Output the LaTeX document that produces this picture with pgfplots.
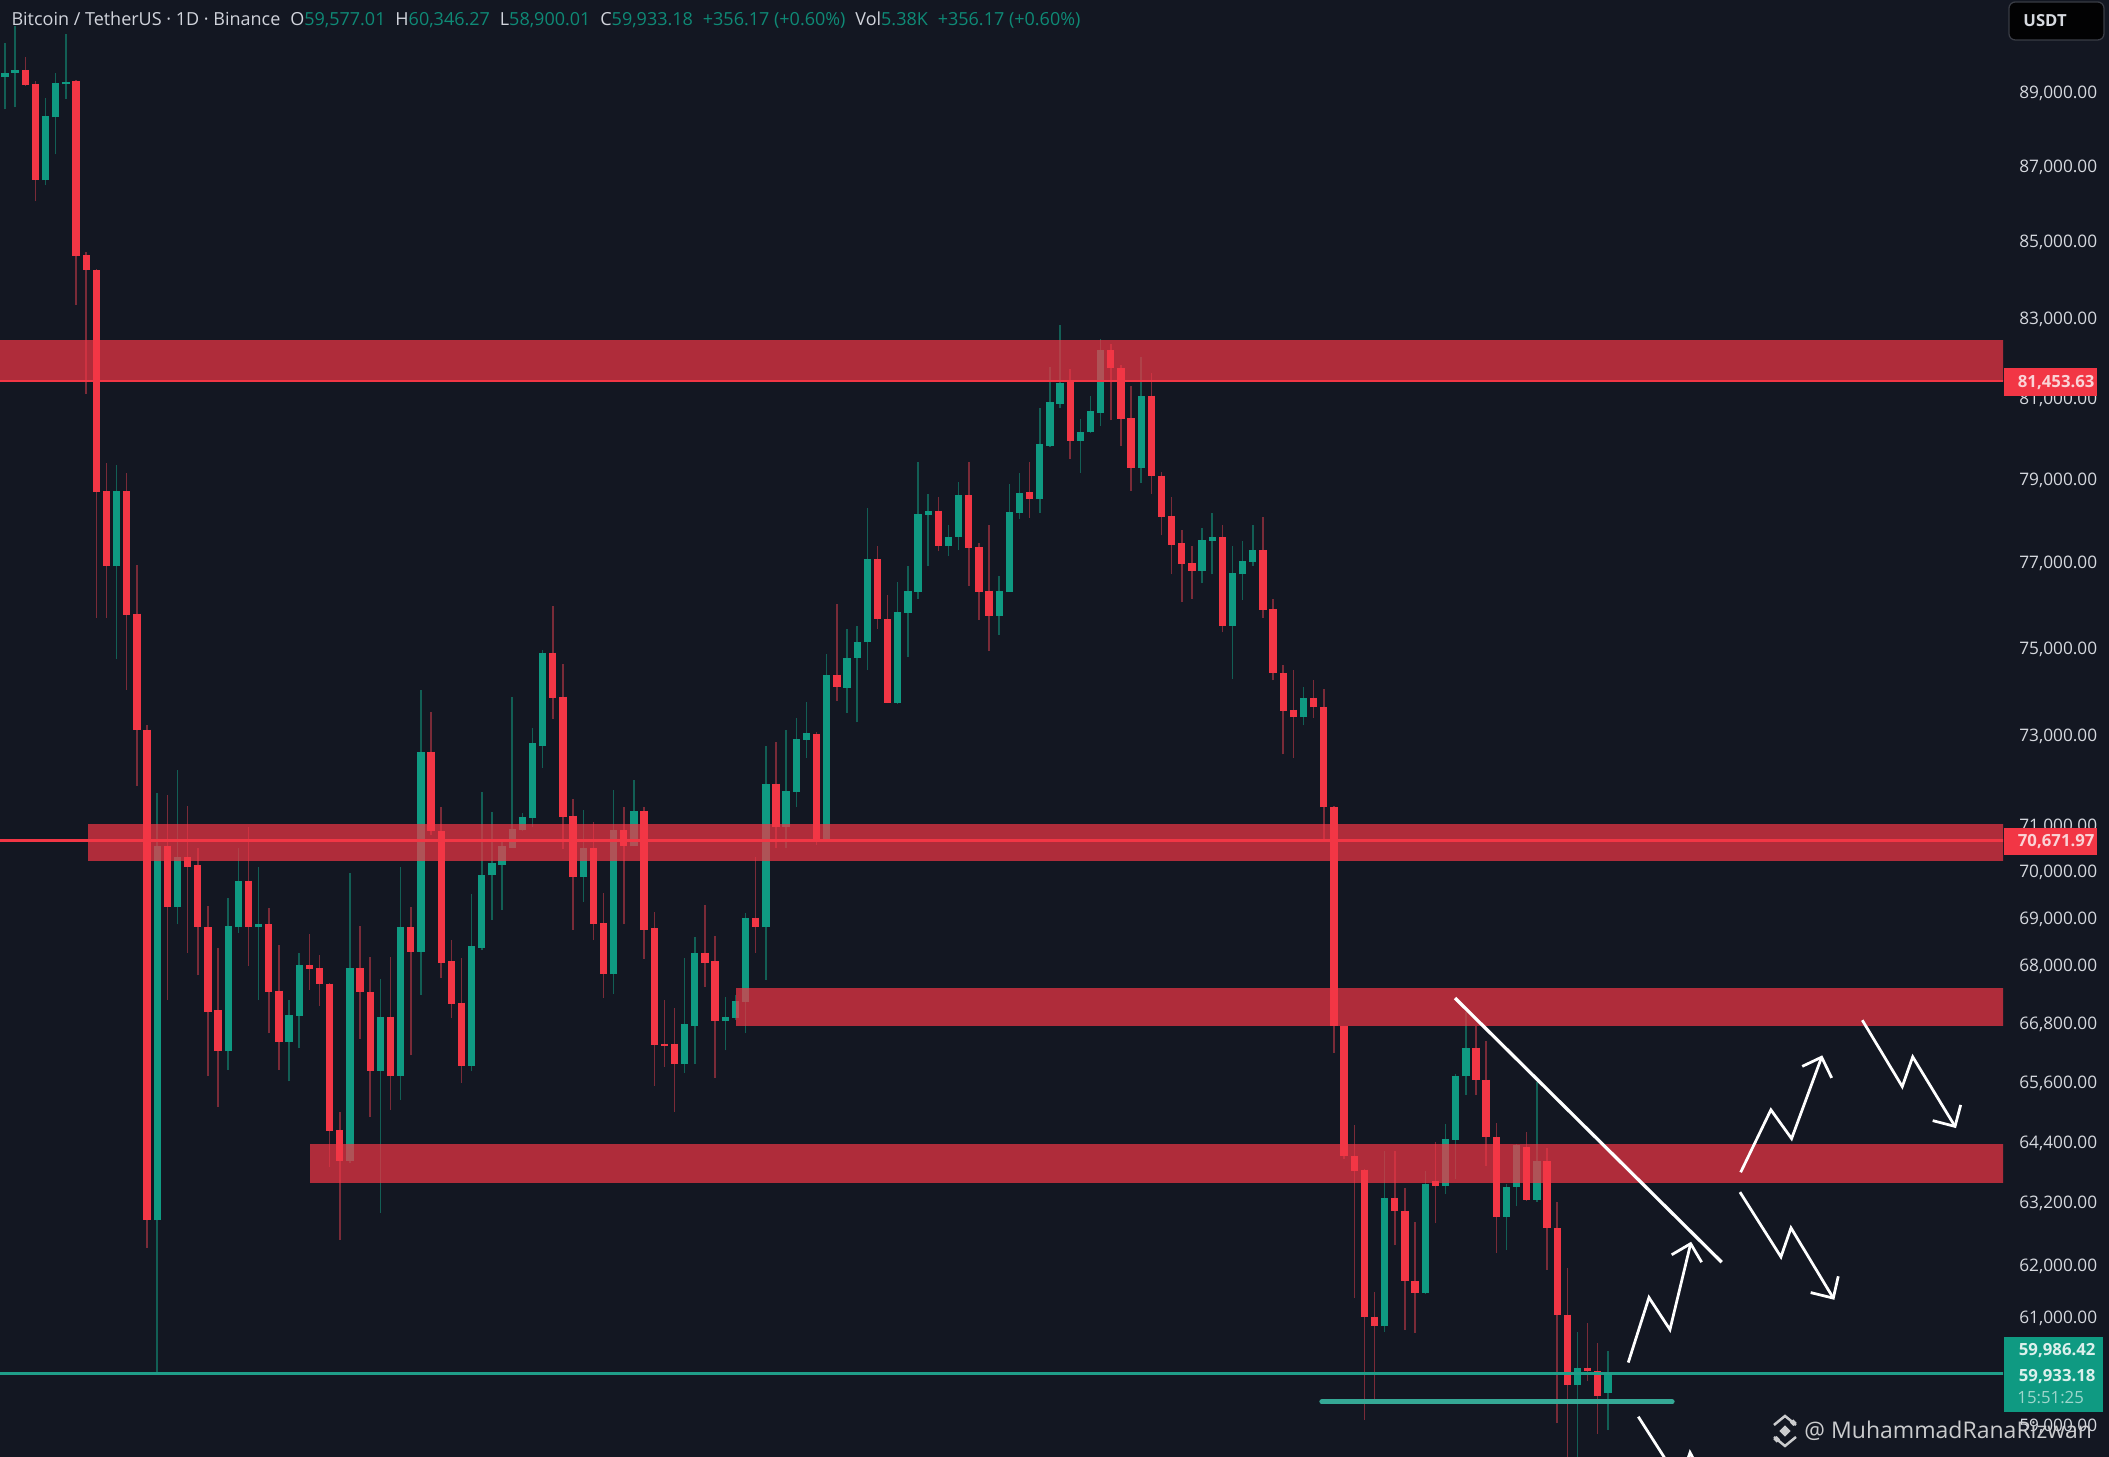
\documentclass[border=0pt]{standalone}
\usepackage{pgfplots}
\usepackage{pgfplotstable}
\usepackage{fontspec}
\setmainfont{Open Sans}
\pgfplotsset{compat=1.18}
\definecolor{bg}{HTML}{131722}
\definecolor{cred}{HTML}{F23645}
\definecolor{cgreen}{HTML}{0F9A82}
\definecolor{wred}{HTML}{7A2B38}
\definecolor{wgreen}{HTML}{125F55}
\definecolor{axt}{HTML}{D6D9DF}
\definecolor{head}{HTML}{D1D4DC}
\definecolor{headg}{HTML}{0E8A76}
\definecolor{lgreen}{HTML}{1F9E89}
\definecolor{tagt}{HTML}{FAD3D6}
\pgfplotstableread{
i o h l c
0 89390 90320 88500 89500
1 89490 90810 88550 89570
4 86580 88820 86450 88310
5 88280 89490 87280 89210
6 89180 90570 88790 89250
11 76890 79320 74700 78680
15 62830 71690 59970 70530
17 69200 72200 68830 70290
22 66190 69400 65820 68790
23 68770 70490 68660 69770
25 68770 70070 67250 68830
28 66390 67250 65580 66940
29 66920 68240 66250 67970
34 64000 69940 63960 67920
37 65800 67690 62980 66900
39 65700 70050 65210 68770
41 68260 74000 67360 72600
46 65900 69470 65780 68370
47 68340 71710 68300 69900
48 69880 71270 68930 70140
49 70120 70660 69150 70510
50 70490 73840 70490 70880
51 70860 71250 70840 71160
52 71140 73140 70940 72790
53 72740 74930 72250 74860
57 69860 71310 69320 70490
60 67780 71750 67380 70860
62 70510 71980 70510 71290
67 65940 68130 65760 66760
68 66720 68560 65940 68240
71 66820 67310 66210 66900
72 66880 67350 66840 67230
73 67210 69080 66560 68980
75 68770 72720 67670 71890
77 70940 73100 70490 71730
78 71700 73370 71380 72900
79 72870 73730 72460 73010
81 70660 74830 70620 74350
83 74050 75390 73480 74740
84 74740 75480 73260 75100
85 75090 78270 74460 77040
88 73700 76500 73680 75800
89 75780 76890 74750 76300
90 76270 79400 76100 78140
91 78110 78610 76890 78200
93 77370 77850 77130 77580
94 77580 78900 77270 78590
98 75710 76660 75270 76300
99 76270 78860 76270 78180
100 78150 79130 78010 78640
102 78500 80710 78150 79820
103 79790 81730 79770 80850
104 80820 82800 80700 81340
106 79910 80430 79130 80120
107 80110 81020 80090 80630
108 80600 82440 80260 82160
112 79240 82000 78870 81020
118 76770 77800 76470 77510
119 77490 78150 76680 77560
121 75480 77370 74250 76710
122 76680 77490 76080 77010
123 76990 77870 76890 77270
128 73380 74070 73190 73820
136 60820 64180 60710 63270
140 61440 63800 61420 63540
142 63500 64720 63350 64420
143 64410 65740 63640 65700
144 65680 66990 65310 66270
148 62900 63540 62260 63490
149 63490 64320 63100 64300
151 63230 65570 63190 63980
155 59730 60710 58200 60040
158 59577 60346 58900 59933
}\upT
\pgfplotstableread{
i o h l c
2 89580 89930 89140 89170
3 89180 89270 86020 86580
7 89280 89300 83330 84580
8 84610 84690 81070 84220
9 84220 84240 75670 78660
10 78680 79370 75670 76890
12 78680 79130 74000 75720
13 75760 76910 71840 73100
14 73100 73210 62300 62830
16 70530 71640 67250 69200
18 70290 71400 68240 70070
19 70100 70490 67760 68770
20 68770 69230 65700 67010
21 67030 68340 65070 66190
24 69770 70940 67950 68770
26 68830 69190 66560 67420
27 67440 68410 65820 66390
30 67970 68640 67460 67900
31 67920 68180 67130 67590
32 67590 67610 63880 64590
33 64610 64970 62460 64000
35 67920 68790 66450 67420
36 67420 68150 64870 65800
38 66900 68150 65010 65700
40 68770 69210 66110 68260
42 72600 73500 70770 70840
43 70840 71360 67710 68030
44 68050 68490 66880 67170
45 67190 68130 65560 65900
54 74860 75940 73340 73820
55 73840 74600 70450 71160
56 71180 71550 68720 69860
58 70470 71050 68510 68850
59 68870 69510 67290 67780
61 70860 71360 68830 70510
63 71290 71380 68110 68720
64 68750 69100 65490 66330
65 66350 67250 65880 66310
66 66350 67090 64970 65940
69 68240 69250 67520 68030
70 68050 68600 65660 66820
74 68980 70290 68240 68770
76 71890 72810 70490 70940
80 72990 73040 70550 70660
82 74350 75990 73750 74070
86 77040 77370 75410 75640
87 75640 76200 73690 73700
92 78200 78530 77230 77370
95 78590 79400 76410 77310
96 77320 77440 75620 76270
97 76300 77850 74880 75710
101 78650 79400 78040 78500
105 81400 81680 79450 79910
109 82160 82320 80410 81710
110 81710 81800 79790 80430
111 80460 81250 78690 79240
113 81020 81590 78610 79050
114 79050 79150 77610 78060
115 78080 78540 76680 77390
116 77420 77750 76030 76940
117 76960 77370 76110 76770
120 77560 77850 75330 75480
124 77270 78050 75670 75850
125 75870 76110 74210 74380
126 74390 74560 72540 73520
127 73550 74460 72460 73380
129 73820 74210 73370 73600
130 73610 74030 70660 71360
131 71360 71400 66170 66700
132 66700 66720 64020 64080
133 64080 64710 61350 63800
134 63820 63830 59080 60980
135 60990 61460 59450 60820
137 63270 64180 62350 63020
138 63020 63470 60740 61670
139 61670 62790 60690 61440
141 63590 64360 62770 63500
145 66270 66720 65310 65620
146 65620 66410 63900 64460
147 64470 64750 62210 62900
150 64260 64560 63210 63230
152 63980 64240 61880 62670
153 62670 63190 59030 61030
154 61030 61920 58200 59730
156 60040 60880 59800 59980
157 59980 60500 58830 59510
}\downT
\pgfplotsset{
  wick/.style={draw=#1, line width=0.6pt, no marks, forget plot},
  body/.style={draw=#1, line width=2.92pt, no marks, forget plot},
  zone/.style={draw=none, fill=cred, fill opacity=0.7, forget plot},
  ann/.style={white, line width=1.1pt, line join=miter, forget plot, no marks},
}
% one wick and one body per table row, read from the table
\newcommand\wicks[2]{%
  \pgfplotstablegetrowsof{#1}\pgfmathtruncatemacro\lastrow{\pgfplotsretval-1}%
  \pgfplotsforeachungrouped \rr in {0,...,\lastrow}{%
    \pgfplotstablegetelem{\rr}{i}\of{#1}\let\vvi\pgfplotsretval
    \pgfplotstablegetelem{\rr}{h}\of{#1}\let\vvh\pgfplotsretval
    \pgfplotstablegetelem{\rr}{l}\of{#1}\let\vvl\pgfplotsretval
    \edef\temp{\noexpand\addplot[wick=#2] coordinates {(\vvi,\vvl) (\vvi,\vvh)};}\temp
  }}
\newcommand\bodies[2]{%
  \pgfplotstablegetrowsof{#1}\pgfmathtruncatemacro\lastrow{\pgfplotsretval-1}%
  \pgfplotsforeachungrouped \rr in {0,...,\lastrow}{%
    \pgfplotstablegetelem{\rr}{i}\of{#1}\let\vvi\pgfplotsretval
    \pgfplotstablegetelem{\rr}{o}\of{#1}\let\vvo\pgfplotsretval
    \pgfplotstablegetelem{\rr}{c}\of{#1}\let\vvc\pgfplotsretval
    \edef\temp{\noexpand\addplot[body=#2] coordinates {(\vvi,\vvo) (\vvi,\vvc)};}\temp
  }}
\begin{document}
\begin{tikzpicture}
\useasboundingbox (0,0) rectangle (843.6pt,582.8pt);
\fill[bg] (0,0) rectangle (843.6pt,582.8pt);
\begin{axis}[
  at={(0,0)}, anchor=south west, scale only axis,
  width=801.2pt, height=582.8pt,
  ymode=log,
  xmin=-0.4929, xmax=196.95, ymin=58415, ymax=91547,
  axis x line=none, axis y line*=right,
  y axis line style={draw=none},
  major tick length=0pt, minor tick length=0pt,
  xtick=\empty,
  ytick={89000,87000,85000,83000,81000,79000,77000,75000,73000,71000,70000,69000,68000,66800,65600,64400,63200,62000,61000,59000},
  yticklabels={{89,000.00},{87,000.00},{85,000.00},{83,000.00},{81,000.00},{79,000.00},{77,000.00},{75,000.00},{73,000.00},{71,000.00},{70,000.00},{69,000.00},{68,000.00},{66,800.00},{65,600.00},{64,400.00},{63,200.00},{62,000.00},{61,000.00},{59,000.00}},
  yticklabel style={font=\fontsize{6.9}{8}\selectfont, text=axt, anchor=west, xshift=3pt, yshift=-1pt},
]
\wicks{\upT}{wgreen}
\wicks{\downT}{wred}
\bodies{\upT}{cgreen}
\bodies{\downT}{cred}
% zones
\addplot[zone] coordinates {(-0.5,82418) (197,82418) (197,81378) (-0.5,81378)} -- cycle;
\addplot[zone] coordinates {(8.18,71009) (197,71009) (197,70184) (8.18,70184)} -- cycle;
\addplot[zone] coordinates {(72.05,67503) (197,67503) (197,66720) (72.05,66720)} -- cycle;
\addplot[zone] coordinates {(30.06,64337) (197,64337) (197,63564) (30.06,63564)} -- cycle;
% price lines
\addplot[cred, line width=0.9pt, forget plot] coordinates {(-0.5,81390) (197,81390)};
\addplot[cred, line width=0.9pt, forget plot] coordinates {(-0.5,70640) (197,70640)};
\addplot[lgreen, line width=1pt, forget plot] coordinates {(-0.5,59933) (197,59933)};
\addplot[lgreen!90!white, line width=2.1pt, line cap=round, forget plot] coordinates {(129.82,59409) (164.32,59409)};
% trend line and arrows
\addplot[ann, line width=1.3pt] coordinates {(142.93,67292) (169.22,62023)};
\addplot[ann] coordinates {(160.01,60135) (162.05,61351) (164.12,60749) (166.16,62382)};
\addplot[ann] coordinates {(164.29,62171) (166.16,62382) (167.24,62023)};
\addplot[ann] coordinates {(171.09,63770) (174.07,65010) (176.11,64436) (179.07,66073)};
\addplot[ann] coordinates {(177.16,65889) (179.07,66073) (180.06,65651)};
\addplot[ann] coordinates {(183.08,66828) (187.02,65479) (188.05,66079) (192.22,64679)};
\addplot[ann] coordinates {(190.02,64792) (192.22,64679) (192.78,65109)};
\addplot[ann] coordinates {(171.02,63379) (175.06,62127) (176.05,62684) (180.22,61340)};
\addplot[ann] coordinates {(177.99,61448) (180.22,61340) (180.71,61755)};
\addplot[ann] coordinates {(161.0,59138) (165.1,57965) (166.1,58488) (167.28,58091)};
\end{axis}
\begin{scope}[x=.4pt,y=-.4pt,shift={(0pt,582.8pt)}]
% header
\node[anchor=west, inner sep=0pt, font=\fontsize{7.2}{9}\selectfont, text=head] at (11,20.5)
 {Bitcoin / TetherUS · 1D · Binance\hspace{0.55em}O\textcolor{headg}{59,577.01}\hspace{0.55em}H\textcolor{headg}{60,346.27}\hspace{0.55em}L\textcolor{headg}{58,900.01}\hspace{0.55em}C\textcolor{headg}{59,933.18}\hspace{0.55em}\textcolor{headg}{+356.17 (+0.60\%)}\hspace{0.55em}Vol\textcolor{headg}{5.38K}\hspace{0.55em}\textcolor{headg}{+356.17 (+0.60\%)}};
% USDT box
\fill[fill=black!92!bg, draw=white!16!bg, line width=.5pt, rounded corners=2.5pt] (2009,2) rectangle (2104,40);
\node[anchor=west, inner sep=0pt, font=\bfseries\fontsize{6.65}{8}\selectfont, text=axt] at (2023,21) {USDT};
% price tags
\fill[cred] (2004,368) rectangle (2097,396);
\node[anchor=east, inner sep=0pt, font=\bfseries\fontsize{6.7}{8}\selectfont, text=tagt] at (2095,382.5) {81,453.63};
\fill[cred] (2004,828) rectangle (2097,855);
\node[anchor=east, inner sep=0pt, font=\bfseries\fontsize{6.7}{8}\selectfont, text=tagt] at (2095,842) {70,671.97};
\fill[cgreen] (2004,1337) rectangle (2103,1412);
\node[anchor=east, inner sep=0pt, font=\bfseries\fontsize{6.7}{8}\selectfont, text=white!85!cgreen] at (2096,1351) {59,986.42};
\node[anchor=east, inner sep=0pt, font=\bfseries\fontsize{6.7}{8}\selectfont, text=white!85!cgreen] at (2096,1377) {59,933.18};
\node[anchor=west, inner sep=0pt, font=\fontsize{6.7}{8}\selectfont, text=white!60!cgreen] at (2017,1398) {15:51:25};
% watermark
\begin{scope}[shift={(1785,1431)}]
  \fill[white!78!bg,rotate=45] (-4,-4) rectangle (4,4);
  \fill[white!78!bg,rotate=45] (-14,-2.4) rectangle (-9.5,2.4);
  \fill[white!78!bg,rotate=45] (9.5,-2.4) rectangle (14,2.4);
  \draw[white!78!bg,line width=1pt] (-11,-6) -- (0,-15) -- (11,-6);
  \draw[white!78!bg,line width=1pt] (-11,6) -- (0,15) -- (11,6);
\end{scope}
\node[anchor=west, inner sep=0pt, font=\fontsize{9.2}{11}\selectfont, text=white!78!bg] at (1804,1431) {@ MuhammadRanaRizwan};
\end{scope}
\end{tikzpicture}
\end{document}
